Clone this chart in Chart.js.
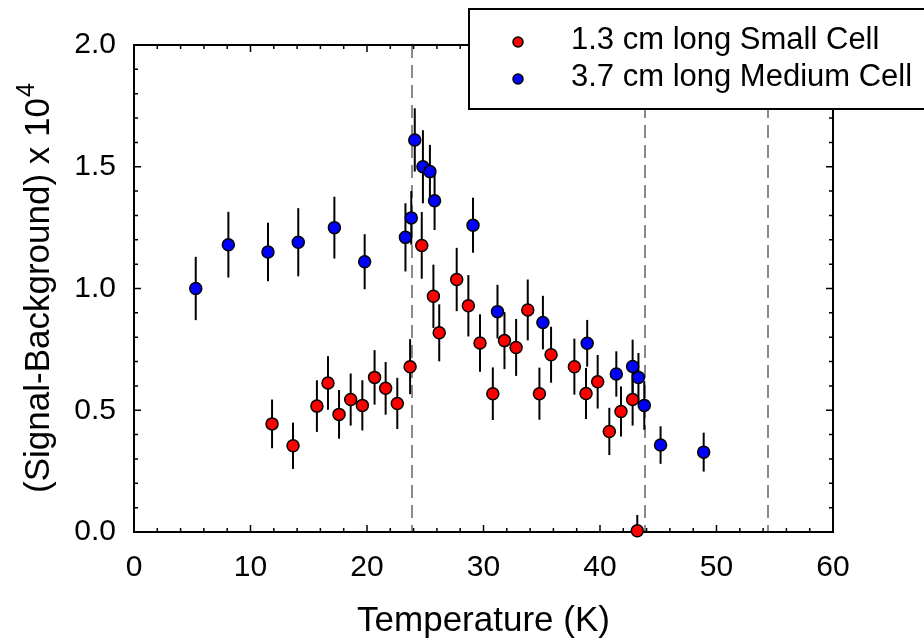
<!DOCTYPE html>
<html>
<head>
<meta charset="utf-8">
<script src="https://cdn.jsdelivr.net/npm/chart.js@4/dist/chart.umd.min.js"></script>
<style>
  body { margin: 0; background: #fff; }
</style>
</head>
<body>
<canvas id="cellChart" width="924" height="643"></canvas>
<script>
// 1.3 cm long Small Cell (red)
const smallTemp = [
  11.85, 13.65, 15.7, 16.65, 17.6, 18.6, 19.6, 20.65, 21.6, 22.6,
  23.7, 24.7, 25.7, 26.2, 27.7, 28.7, 29.7, 30.8, 31.8, 32.8,
  33.8, 34.8, 35.8, 37.8, 38.8, 39.8, 40.8, 41.8, 42.8, 43.2
];
const smallSignal = [
  0.444, 0.354, 0.517, 0.612, 0.483, 0.544, 0.52, 0.635, 0.59, 0.528,
  0.679, 1.177, 0.968, 0.818, 1.037, 0.929, 0.776, 0.568, 0.786, 0.758,
  0.912, 0.568, 0.728, 0.679, 0.569, 0.617, 0.413, 0.495, 0.544, 0.005
];
const smallErr = [
  0.10, 0.095, 0.106, 0.11, 0.10, 0.107, 0.103, 0.112, 0.108, 0.105,
  0.113, 0.137, 0.13, 0.117, 0.13, 0.126, 0.118, 0.108, 0.117, 0.117,
  0.125, 0.107, 0.115, 0.115, 0.105, 0.11, 0.097, 0.103, 0.107, 0.065
];

// 3.7 cm long Medium Cell (blue)
const mediumTemp = [
  5.3, 8.1, 11.5, 14.1, 17.2, 19.8, 23.3, 23.8, 24.1, 24.8, 25.4,
  25.8, 29.1, 31.2, 35.1, 38.9, 41.4, 42.8, 43.3, 43.8, 45.2, 48.9
];
const mediumSignal = [
  1.00, 1.18, 1.15, 1.19, 1.25, 1.11, 1.21, 1.29, 1.61, 1.50, 1.48,
  1.36, 1.26, 0.905, 0.86, 0.775, 0.649, 0.68, 0.635, 0.52, 0.357, 0.328
];
const mediumErr = [
  0.13, 0.135, 0.12, 0.14, 0.127, 0.113, 0.14, 0.11, 0.13, 0.15, 0.11,
  0.12, 0.113, 0.11, 0.11, 0.096, 0.093, 0.11, 0.1, 0.1, 0.077, 0.08
];

// dashed reference lines (K)
const markerTemps = [23.9, 43.85, 54.4];

const toPoints = (xs, ys) => xs.map((x, i) => ({ x: x, y: ys[i] }));
const FONT = "'Liberation Sans', Arial, sans-serif";

// error bars + dashed lines + frame, behind the points
const backdropPlugin = {
  id: 'backdrop',
  beforeDatasetsDraw(chart) {
    const { ctx, chartArea: a, scales: { x, y } } = chart;
    ctx.save();

    // dashed vertical lines
    ctx.strokeStyle = '#8a8a8a';
    ctx.lineWidth = 2;
    ctx.setLineDash([13, 7]);
    markerTemps.forEach((t) => {
      const px = Math.round(x.getPixelForValue(t));
      ctx.beginPath();
      ctx.moveTo(px, a.top);
      ctx.lineTo(px, a.bottom);
      ctx.stroke();
    });
    ctx.setLineDash([]);

    // frame with inward ticks
    ctx.strokeStyle = '#000';
    ctx.lineWidth = 2;
    ctx.strokeRect(a.left, a.top, a.right - a.left, a.bottom - a.top);
    ctx.lineWidth = 1.5;
    ctx.beginPath();
    for (let v = 0; v <= 60; v += 2) {
      const px = x.getPixelForValue(v);
      const len = v % 10 === 0 ? 7 : 4;
      ctx.moveTo(px, a.bottom); ctx.lineTo(px, a.bottom - len);
      ctx.moveTo(px, a.top); ctx.lineTo(px, a.top + len);
    }
    for (let i = 0; i <= 20; i++) {
      const py = y.getPixelForValue(i / 10);
      const len = i % 5 === 0 ? 7 : 4;
      ctx.moveTo(a.left, py); ctx.lineTo(a.left + len, py);
      ctx.moveTo(a.right, py); ctx.lineTo(a.right - len, py);
    }
    ctx.stroke();

    // error bars
    ctx.lineWidth = 2;
    ctx.strokeStyle = '#000';
    const bars = [[smallTemp, smallSignal, smallErr], [mediumTemp, mediumSignal, mediumErr]];
    bars.forEach(([xs, ys, es]) => {
      xs.forEach((t, i) => {
        const px = x.getPixelForValue(t);
        ctx.beginPath();
        ctx.moveTo(px, y.getPixelForValue(Math.max(ys[i] - es[i], 0)));
        ctx.lineTo(px, y.getPixelForValue(ys[i] + es[i]));
        ctx.stroke();
      });
    });
    ctx.restore();
  }
};

// y title with superscript, and the boxed legend
const overlayPlugin = {
  id: 'overlay',
  afterDraw(chart) {
    const { ctx, chartArea: a } = chart;
    ctx.save();

    // y axis title
    const main = '(Signal-Background) x 10';
    ctx.font = '35px ' + FONT;
    const wMain = ctx.measureText(main).width;
    ctx.font = '25px ' + FONT;
    const wSup = ctx.measureText('4').width;
    ctx.translate(49, (a.top + a.bottom) / 2);
    ctx.rotate(-Math.PI / 2);
    ctx.fillStyle = '#000';
    ctx.textBaseline = 'alphabetic';
    ctx.textAlign = 'left';
    const start = -(wMain + wSup) / 2;
    ctx.font = '35px ' + FONT;
    ctx.fillText(main, start, 0);
    ctx.font = '25px ' + FONT;
    ctx.fillText('4', start + wMain + 1, -15);
    ctx.restore();

    // legend box
    ctx.save();
    ctx.fillStyle = '#fff';
    ctx.fillRect(469, 9, 470, 100);
    ctx.strokeStyle = '#000';
    ctx.lineWidth = 2;
    ctx.strokeRect(469, 9, 470, 100);
    ctx.font = '31px ' + FONT;
    ctx.textBaseline = 'middle';
    ctx.textAlign = 'left';
    chart.data.datasets.forEach((ds, i) => {
      const cy = 40 + i * 37;
      ctx.beginPath();
      ctx.arc(518, cy + 2, 5, 0, Math.PI * 2);
      ctx.fillStyle = ds.backgroundColor;
      ctx.fill();
      ctx.lineWidth = 1.5;
      ctx.strokeStyle = '#000';
      ctx.stroke();
      ctx.fillStyle = '#000';
      ctx.fillText(ds.label, 571, cy);
    });
    ctx.restore();
  }
};

const config = {
  type: 'scatter',
  data: {
    datasets: [
      {
        label: '1.3 cm long Small Cell',
        data: toPoints(smallTemp, smallSignal),
        backgroundColor: '#ff0000',
        borderColor: '#000',
        borderWidth: 1.5,
        pointRadius: 6,
        clip: false
      },
      {
        label: '3.7 cm long Medium Cell',
        data: toPoints(mediumTemp, mediumSignal),
        backgroundColor: '#0000ff',
        borderColor: '#000',
        borderWidth: 1.5,
        pointRadius: 6,
        clip: false
      }
    ]
  },
  options: {
    responsive: false,
    animation: false,
    layout: { padding: { top: 45, right: 91, left: 0, bottom: 0 } },
    plugins: {
      legend: { display: false },
      tooltip: { enabled: false }
    },
    scales: {
      x: {
        type: 'linear',
        min: 0,
        max: 60,
        grid: { display: false, drawTicks: false },
        border: { display: false },
        ticks: {
          stepSize: 10,
          padding: 18,
          color: '#000',
          font: { family: FONT, size: 30 }
        },
        title: {
          display: true,
          text: 'Temperature (K)',
          color: '#000',
          padding: { top: 0, bottom: 1 },
          font: { family: FONT, size: 35 }
        },
        afterFit(scale) { scale.height = 111; }
      },
      y: {
        min: 0,
        max: 2,
        grid: { display: false, drawTicks: false },
        border: { display: false },
        ticks: {
          stepSize: 0.5,
          padding: 18,
          color: '#000',
          font: { family: FONT, size: 30 },
          callback: (v) => v.toFixed(1)
        },
        afterFit(scale) { scale.width = 134; }
      }
    }
  },
  plugins: [backdropPlugin, overlayPlugin]
};

const cellChart = new Chart(document.getElementById('cellChart'), config);
</script>
</body>
</html>
